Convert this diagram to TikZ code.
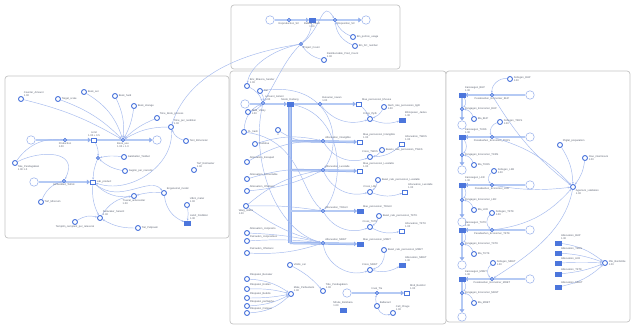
\documentclass[tikz,border=0pt]{standalone}
\usepackage{fontspec}
\setmainfont{Liberation Sans}
\usetikzlibrary{arrows.meta}
\definecolor{lnk}{HTML}{A3B9EE}
\definecolor{blu}{HTML}{4C76DC}
\definecolor{pipeC}{HTML}{9DB8F0}
\definecolor{frameC}{HTML}{C4C4C4}
\definecolor{txt}{HTML}{5C6372}
\pgfdeclarelayer{panels}
\pgfdeclarelayer{wires}
\pgfsetlayers{panels,wires,main}
\tikzset{
  panel/.style={draw=frameC, line width=0.7pt, rounded corners=3pt, fill=white},
  cloudn/.style={circle, draw=blu!55, line width=0.55pt, minimum size=8.5pt, inner sep=0pt, fill=white},
  aux/.style={circle, draw=blu, line width=0.9pt, minimum size=5pt, inner sep=0pt, fill=white},
  stockf/.style={rectangle, fill=blu, draw=blu, minimum width=5.5pt, minimum height=4.2pt, inner sep=0pt},
  stocko/.style={rectangle, fill=white, draw=blu, line width=0.55pt, minimum width=5.5pt, minimum height=4.2pt, inner sep=0pt},
  valve/.style={circle, draw=blu, fill=pipeC, line width=0.55pt, minimum size=3.6pt, inner sep=0pt},
  pipe/.style={draw=pipeC!85!blu, line width=0.5pt, double=pipeC!75, double distance=1.4pt, -{Triangle[length=3pt,width=4.5pt]}},
  pipen/.style={draw=pipeC!85!blu, line width=0.6pt, double=pipeC!80, double distance=2.4pt},
  link/.style={draw=lnk, line width=0.45pt, -{Stealth[length=2.2pt,width=1.8pt]}},
  lab/.style={font=\fontsize{2.6}{3}\selectfont, text=txt, inner sep=0.6pt, align=left},
}
\begin{document}
\begin{tikzpicture}[x=1pt,y=-1pt]
\useasboundingbox (0,0) rectangle (633,327);

% ---------- panels ----------
\begin{pgfonlayer}{panels}
  \draw[panel] (231,5) rectangle (400,69);
  \draw[panel] (5,76) rectangle (229,238);
  \draw[panel] (230,71) rectangle (446,324);
  \draw[panel] (446,71) rectangle (630,322);
\end{pgfonlayer}

% ---------- top panel ----------
\node[cloudn] (tc1) at (270,20) {};
\node[valve, label={[lab]below:Reproduction\_SC}] (tv1) at (289,20) {};
\node[stockf, label={[lab,align=center]below:Bubble\_count\\1.00}] (ts) at (312,20) {};
\node[valve, label={[lab]below right:Disposition\_SC}] (tv2) at (335,20) {};
\node[cloudn] (tc2) at (366,20) {};
\node[aux, label={[lab]right:Bin\_portion\_usage}] (ta1) at (353,37) {};
\node[aux, label={[lab]right:Bin\_SC\_number}] (ta2) at (355,46) {};
\node[aux, minimum size=3pt, label={[lab]below right:Project\_Count}] (tj) at (301,44) {};
\node[aux, label={[lab]above right:Reimbursable\_Prod\_Count\\1.00}] (ta3) at (324,60) {};

% ---------- left panel ----------
\node[aux, label={[lab]above right:Counter\_Amount\\1.00}] (la1) at (21,99) {};
\node[aux, label={[lab]right:Target\_scale}] (la2) at (58,99) {};
\node[aux, label={[lab]right:Book\_set}] (la3) at (84,92) {};
\node[aux, label={[lab]right:Book\_hard}] (la4) at (115,96) {};
\node[aux, label={[lab]right:Book\_storage}] (la5) at (134,106) {};
\node[aux, label={[lab]above right:Time\_Book\_process}] (la6) at (157,118) {};
\node[aux, label={[lab]above right:Time\_per\_rendition\\1.00}] (la7) at (171,127) {};
\node[aux, label={[lab]right:Tent\_Bimonster}] (la8) at (186,141) {};
\node[cloudn] (lc1) at (31,140) {};
\node[valve, label={[lab]below:Production\\1.00}] (lv1) at (65,140) {};
\node[stocko, label={[lab,align=center]above:Limit\\1.00 + 0.5}] (ls1) at (94,140) {};
\node[valve, label={[lab]below:Book\_use\\1.00 + 1.0}] (lv2) at (123,140) {};
\node[cloudn] (lc2) at (157,140) {};
\node[aux, label={[lab]below right:Tale\_Pendagabien\\1.00 1.0}] (lt) at (15,163) {};
\node[aux, minimum size=3pt] (lk) at (98,158) {};
\node[aux, label={[lab]right:Gambetter\_Toolbet}] (lga1) at (124,157) {};
\node[aux, label={[lab]right:Gugimi\_per\_narcotic}] (lga2) at (125,171) {};
\node[cloudn] (lc3) at (34,182) {};
\node[valve, label={[lab]below:Ambedded\_Tetrick}] (lv3) at (64,181) {};
\node[stocko, label={[lab]right:Lab\_product}] (ls2) at (93,182) {};
\node[aux, label={[lab]right:Tarf\_Minorum}] (lm) at (41,202) {};
\node[aux, label={[lab]above right:Tarf\_Relmaster\\1.00}] (lr) at (194,170) {};
\node[aux, label={[lab]below:Trueral\_anbocenter\\1.00}] (lx) at (134,196) {};
\node[aux, label={[lab]above right:Engenemel\_model}] (le) at (164,193) {};
\node[aux, label={[lab]above right:Utbrn\_mater\\1.00}] (lu) at (187,205) {};
\node[stockf, label={[lab]above right:Liekrt\_Drebbler\\1.00}] (lst) at (187,223) {};
\node[aux, label={[lab]above right:Samvaker\_Serenit\\1.00}] (lsv) at (100,218) {};
\node[aux, label={[lab]right:Tiel\_Pelipoem}] (lp) at (138,228) {};
\node[aux, label={[lab]below:Tempilin\_cemplent\_per\_releveral}] (lz) at (75,222) {};

% ---------- middle panel ----------
\node[aux, label={[lab]above right:Brix\_Bhavna\_Sender\\1.00}] (mb) at (247,86) {};
\node[aux, label={[lab]right:Tier}] (mt) at (260,91) {};
\node[cloudn] (mc1) at (245,104) {};
\node[valve, label={[lab]above right:Lehvent\_Isolent\\1.00}] (mv1) at (263,103) {};
\node[stockf, label={[lab]above:Medo\_Dodang}] (ms1) at (290,104) {};
\node[valve, label={[lab]above right:Buruuran\_rowan\\1.00}] (mv2) at (320,104) {};
\node[stocko, label={[lab]above right:Mae\_percussion\_bhouse}] (ms2) at (359,104) {};
\node[aux, label={[lab]right:Nach\_rate\_percussion\_light\\1.00}] (mn) at (384,107) {};
\node[aux, label={[lab]above:Cross\_thyth}] (mx1) at (370,119) {};
\node[stockf, label={[lab]above right:Bhrisposen\_Jaslev\\1.00}] (ms3) at (402,120) {};
\node[aux, label={[lab]right:SEM\_Visiky\\1.00}] (msem) at (248,112) {};
\node[aux, label={[lab]right:CL\_hash}] (mcl) at (244,132) {};
\node[aux, label={[lab]below:0}] (mq) at (278,130) {};
\node[aux, label={[lab]right:Cuiddrue}] (mcu) at (255,144) {};

\coordinate (jA) at (290,141);
\coordinate (jB) at (290,170);
\coordinate (jC) at (290,211);
\coordinate (jD) at (290,243);

\node[valve, label={[lab]above right:Allocuation\_Intangible}] (mvA) at (323,141) {};
\node[stocko, label={[lab]above right:Mae\_percussion\_Intangible\\1.00}] (msA) at (360,142) {};
\node[aux, label={[lab]right:Baselo\_rate\_percussion\_TWKS}] (mbA) at (382,150) {};
\node[aux, label={[lab]above:Cross\_TWKS}] (mxA) at (370,157) {};
\node[stocko, label={[lab]above right:Allocuation\_TWKS\\1.00}] (mtA) at (402,144) {};

\node[valve, label={[lab]above right:Allocuation\_Lusstalle}] (mvB) at (323,170) {};
\node[stocko, label={[lab]above right:Mae\_percussion\_Lusstalle\\1.00}] (msB) at (360,171) {};
\node[aux, label={[lab]right:Basel\_rate\_percussion\_Lusstalle}] (mbB) at (378,180) {};
\node[aux, label={[lab]above:Cross\_LML}] (mxB) at (370,192) {};
\node[stocko, label={[lab]above right:Allocuation\_Lusstalle\\1.00}] (mtB) at (405,192) {};

\node[valve, label={[lab]above right:Allocuation\_TRGUI}] (mvC) at (323,211) {};
\node[stockf, label={[lab]above right:Mae\_percussion\_TRGUI}] (msC) at (360,211) {};
\node[aux, label={[lab]right:Basel\_rate\_percussion\_TKTK}] (mbC) at (379,216) {};
\node[aux, label={[lab]above:Cross\_TKTK}] (mxC) at (370,227) {};
\node[stocko, label={[lab]above right:Allocuation\_TKTK\\1.00}] (mtC) at (402,231) {};

\node[valve, label={[lab]above right:Allocuation\_MRET}] (mvD) at (323,243) {};
\node[stockf, label={[lab]above right:Mae\_percussion\_MRET}] (msD) at (360,244) {};
\node[aux, label={[lab]right:Basel\_rate\_percussion\_MRET}] (mbD) at (384,250) {};
\node[aux, label={[lab]above:Cross\_MRET}] (mxD) at (370,270) {};
\node[stockf, label={[lab]above right:Allocuation\_MRET\\1.00}] (mtD) at (402,265) {};

\node[aux, label={[lab]above right:Allocuation\_Escaped}] (mlA) at (247,162) {};
\node[aux, label={[lab]above right:Allocuation\_Ancientable}] (mlB) at (247,179) {};
\node[aux, label={[lab]above right:Allocuation\_Ohistaroi}] (mlC) at (247,191) {};
\node[aux, label={[lab]below:Warg\_Gibbs\\1.00}] (mwg) at (246,206) {};
\node[aux, label={[lab]above right:Allocuation\_Jonpresto}] (mlD) at (247,233) {};
\node[aux, label={[lab]above right:Pairsuden\_Jonpresbien}] (mlE) at (247,241) {};
\node[aux, label={[lab]above right:Pairsuden\_Ohistaroi}] (mlF) at (247,253) {};

\node[aux, label={[lab]right:Viridis\_cat}] (mvc) at (290,265) {};
\node[aux, label={[lab]above right:Tide\_Pendagabien\\1.00}] (mtp) at (323,291) {};
\node[aux, label={[lab]above right:Mate\_Perbusterio\\1.00}] (mmp) at (291,294) {};
\node[aux, label={[lab]above right:Pikopalen\_Benaker}] (mg1) at (247,279) {};
\node[aux, label={[lab]above right:Pikopalen\_Roklen}] (mg2) at (247,289) {};
\node[aux, label={[lab]above right:Pikopalen\_Beddis}] (mg3) at (247,298) {};
\node[aux, label={[lab]above right:Pikopalen\_perllaiphe}] (mg4) at (247,306) {};
\node[aux, label={[lab]above right:Pikopalen\_Ostooer}] (mg5) at (247,313) {};
\node[cloudn] (mc2) at (347,293) {};
\node[valve, label={[lab]above:Inval\_Tle}] (mv9) at (377,293) {};
\node[stocko, label={[lab]above right:Mnd\_Bunktol\\1.00}] (ms9) at (407,293) {};
\node[stockf, label={[lab]above:Mhute\_Bombara\\1.00}] (ms10) at (343,310) {};
\node[aux, label={[lab]above right:Ballanant}] (mba) at (377,306) {};
\node[aux, label={[lab]above right:Cell\_Chage\\1.00}] (mcc) at (393,313) {};

% ---------- right panel ----------
\foreach \n/\y/\vy/\cy/\fx/\fy in {BHP/95/109/125/510/79, TKRS/137/155/170/500/122, LKR/185/200/222/494/171, TKTK/230/244/265/492/213, MRET/279/293/317/493/263} {
  \node[stockf, label={[lab]above right:Kansaogen\_\n\\1.00}] (rs\n) at (462,\y) {};
  \node[valve, label={[lab]below:Pesabashen\_Economer\_\n}] (rv\n) at (492,\y) {};
  \node[cloudn] (rc\n) at (530,\y) {};
  \node[valve, label={[lab]right:Pengagen\_Economer\_\n}] (rw\n) at (462,\vy) {};
  \node[cloudn] (rd\n) at (462,\cy) {};
  \node[aux, label={[lab]right:Bla\_\n}] (rb\n) at (474,\vy+10) {};
  \node[aux, label={[lab]right:Fehsgen\_\n\\1.00}] (rf\n) at (\fx,\fy) {};
  \begin{pgfonlayer}{wires}
    \draw[pipe] (rc\n) -- (rs\n);
    \draw[pipe] (rs\n) -- (rd\n);
    \draw[link] (rf\n) to[bend right=50] (rv\n);
    \draw[link] (rs\n) to[bend left=40] (rw\n);
    \draw[link] (rb\n) to[bend right=30] (rw\n);
  \end{pgfonlayer}
}
\node[aux, label={[lab]above right:Pligtal\_preparation}] (rp) at (560,145) {};
\node[aux, label={[lab]right:Ciao\_interimsum\\1.00}] (rc) at (585,158) {};
\node[aux, label={[lab]below right:Agemum\_validation\\1.00}] (ra) at (573,187) {};
\node[stockf, label={[lab]above right:Allocuation\_BHP\\1.00}] (rq1) at (558,243) {};
\node[stockf, label={[lab]above right:Allocuation\_TKRS}] (rq2) at (558,253) {};
\node[stockf, label={[lab]above right:Allocuation\_LKR}] (rq3) at (558,263) {};
\node[stockf, label={[lab]above right:Allocuation\_TKTK}] (rq4) at (558,274) {};
\node[stockf, label={[lab]above right:Allocuation\_MRET}] (rq5) at (558,287) {};
\node[aux, label={[lab]right:Plle\_Bordstrite\\1.00}] (rpb) at (605,263) {};

% ---------- flows and links ----------
\begin{pgfonlayer}{wires}
  % top panel
  \draw[pipe] (tc1) -- (ts);
  \draw[pipe] (ts) -- (tc2);
  \draw[link] (ta1) to[bend left=20] (tv2);
  \draw[link] (ta2) to[bend left=30] (tv2);
  \draw[link] (ts) to[bend left=20] (tj);
  \draw[link] (tj) .. controls (322,28) and (322,-2) .. (tv2);
  \draw[link] (ta3) to[bend left=20] (tj);
  \draw[link] (tj) .. controls (272,50) and (250,66) .. (mb);
  \draw[link] (tj) .. controls (285,60) and (278,78) .. (mv1);
  \draw[link] (tj) .. controls (250,52) and (190,70) .. (la7);

  % left panel
  \draw[pipe] (lc1) -- (ls1);
  \draw[pipe] (ls1) -- (lc2);
  \draw[pipe] (lc3) -- (ls2);
  \draw[link] (la1) to[bend left=8] (lv2);
  \draw[link] (la2) to[bend left=12] (lv2);
  \draw[link] (la3) to[bend left=20] (lv2);
  \draw[link] (la4) to[bend left=15] (lv2);
  \draw[link] (la5) to[bend left=10] (lv2);
  \draw[link] (la6) to[bend right=10] (lv2);
  \draw[link] (la7) to[bend right=15] (lv2);
  \draw[link] (la8) to[bend left=25] (la7);
  \draw[link] (lt) to[bend left=30] (lv1);
  \draw[link] (ls1) to[bend left=15] (lk);
  \draw[link] (lga1) to[bend right=10] (lk);
  \draw[link] (lga2) to[bend left=15] (lk);
  \draw[link] (lk) to[bend right=10] (ls2);
  \draw[link] (lm) to[bend left=25] (lv3);
  \draw[link] (ls2) to[bend right=15] (lsv);
  \draw[link] (ls2) to[bend right=25] (lx);
  \draw[link] (ls2) .. controls (120,205) and (150,175) .. (le);
  \draw[link] (lsv) to[bend left=25] (lx);
  \draw[link] (le) to[bend right=10] (lx);
  \draw[link] (lz) to[bend left=25] (lsv);
  \draw[link] (lp) to[bend left=15] (lsv);
  \draw[link] (le) to[bend right=30] (lst);
  \draw[link] (lu) to[bend left=10] (lst);
  \draw[link] (la7) .. controls (175,165) and (130,195) .. (ls2);
  \draw[link] (lt) .. controls (40,150) and (80,150) .. (lv3);

  % middle panel
  \draw[pipe] (mc1) -- (ms1);
  \draw[pipe] (ms1) -- (ms2);
  \draw[pipen] (ms1) -- (jD);
  \draw[pipe] (jA) -- (msA);
  \draw[pipe] (jB) -- (msB);
  \draw[pipe] (jC) -- (msC);
  \draw[pipe] (jD) -- (msD);
  \draw[pipe] (mc2) -- (ms9);
  \draw[link] (mb) to[bend left=20] (mv1);
  \draw[link] (mt) to[bend left=20] (mv1);
  \draw[link] (msem) to[bend right=20] (mv1);
  \draw[link] (mcl) to[bend left=30] (mv1);
  \draw[link] (mq) to[bend right=20] (mvA);
  \draw[link] (mcu) to[bend left=15] (mvA);
  \draw[link] (mv2) to[bend right=35] (mx1);
  \draw[link] (mn) to[bend left=20] (mx1);
  \draw[link] (mx1) to[bend right=20] (ms3);
  \draw[link] (ms2) to[bend left=10] (mx1);
  \draw[link] (mvA) to[bend right=40] (mxA);
  \draw[link] (mbA) to[bend left=20] (mxA);
  \draw[link] (mxA) to[bend right=20] (mtA);
  \draw[link] (mvB) to[bend right=40] (mxB);
  \draw[link] (mbB) to[bend left=20] (mxB);
  \draw[link] (mxB) to[bend right=20] (mtB);
  \draw[link] (mvC) to[bend right=40] (mxC);
  \draw[link] (mbC) to[bend left=20] (mxC);
  \draw[link] (mxC) to[bend right=20] (mtC);
  \draw[link] (mvD) to[bend right=50] (mxD);
  \draw[link] (mbD) to[bend left=40] (mxD);
  \draw[link] (mxD) to[bend right=20] (mtD);
  \draw[link] (mlA) to[bend left=15] (mvA);
  \draw[link] (mlB) to[bend left=10] (mvB);
  \draw[link] (mlC) to[bend right=10] (mvB);
  \draw[link] (mwg) to[bend left=15] (mvB);
  \draw[link] (mwg) to[bend left=5] (mvC);
  \draw[link] (mwg) to[bend right=10] (mvD);
  \draw[link] (mlD) to[bend left=5] (mvD);
  \draw[link] (mlE) to[bend left=5] (mvD);
  \draw[link] (mlF) to[bend right=10] (mvD);
  \draw[link] (mv1) .. controls (250,160) and (275,230) .. (mvD);
  \draw[link] (ms1) .. controls (345,115) and (345,185) .. (mvC);
  \draw[link] (mcl) .. controls (300,140) and (300,190) .. (mvC);
  \draw[link] (mt) .. controls (330,80) and (345,140) .. (mvB);
  \draw[link] (mg1) to[bend left=15] (mmp);
  \draw[link] (mg2) to[bend left=8] (mmp);
  \draw[link] (mg3) to[bend right=5] (mmp);
  \draw[link] (mg4) to[bend right=12] (mmp);
  \draw[link] (mg5) to[bend right=20] (mmp);
  \draw[link] (mvc) to[bend left=10] (mtp);
  \draw[link] (mba) to[bend left=15] (mv9);
  \draw[link] (mba) to[bend right=45] (mcc);

  % right panel
  \draw[link] (rvBHP) to[bend right=10] (ra);
  \draw[link] (rvTKRS) to[bend left=15] (ra);
  \draw[link] (rvLKR) to[bend right=8] (ra);
  \draw[link] (rvTKTK) to[bend right=20] (ra);
  \draw[link] (rp) to[bend left=15] (ra);
  \draw[link] (rc) to[bend left=15] (ra);
  \draw[link] (ra) .. controls (565,230) and (530,255) .. (rvMRET);
  \draw[link] (rq1) to[bend left=15] (rpb);
  \draw[link] (rq2) to[bend left=8] (rpb);
  \draw[link] (rq3) to[bend left=2] (rpb);
  \draw[link] (rq4) to[bend right=8] (rpb);
  \draw[link] (rq5) to[bend right=15] (rpb);
\end{pgfonlayer}
\end{tikzpicture}
\end{document}
